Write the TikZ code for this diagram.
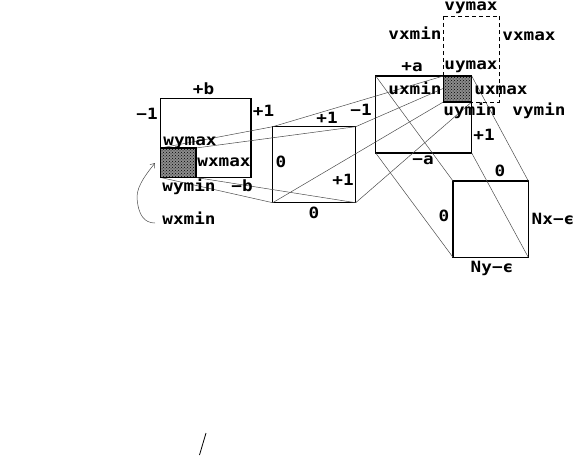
\documentclass[tikz,border=0pt]{standalone}
\usepackage{fontspec}
\setmonofont{DejaVu Sans Mono}
\usetikzlibrary{arrows.meta,patterns}

\begin{document}
\begin{tikzpicture}[
  x=1pt, y=-1pt,
  >={Straight Barb[length=4pt,width=6pt]},
  lbl/.style={font=\ttfamily\bfseries\fontsize{15.5}{16}\selectfont, anchor=base, inner sep=0pt, text=black, transform shape, xscale=1.14},
  frame/.style={draw=black, line width=1.1pt},
  dashframe/.style={draw=black, line width=0.6pt, dash pattern=on 4pt off 3pt},
  hatched/.style={draw=black, line width=1.1pt, fill=black!45, postaction={pattern=crosshatch dots, pattern color=black}},
  mapline/.style={draw=black!70, line width=0.5pt}
]
  \useasboundingbox (0,0) rectangle (577,460);
  % boxes
  \coordinate (wa) at (160.7,98.5);
  \coordinate (wb) at (251,177.5);
  \coordinate (sw) at (160.7,148);
  \coordinate (se) at (196,177.5);
  \coordinate (na) at (272.7,126.7);
  \coordinate (nb) at (355.7,202.7);
  \coordinate (ua) at (375.7,76);
  \coordinate (ub) at (471.7,153);
  \coordinate (ta) at (443.3,76);
  \coordinate (tb) at (471.7,102);
  \coordinate (va) at (443.3,16);
  \coordinate (vb) at (499.7,102);
  \coordinate (da) at (453,181);
  \coordinate (db) at (528.3,257.3);
  \draw[dashframe] (va) rectangle (vb);
  \draw[frame] (wa) rectangle (wb);
  \draw[frame] (na) rectangle (nb);
  \draw[frame] (ua) rectangle (ub);
  \draw[frame] (da) rectangle (db);
  % mapping lines
  \draw[mapline] (sw) -- (na);
  \draw[mapline] (se |- sw) -- (nb |- na);
  \draw[mapline] (sw |- se) -- (na |- nb);
  \draw[mapline] (se) -- (nb);
  \draw[mapline] (na) -- (ta);
  \draw[mapline] (nb |- na) -- (tb |- ta);
  \draw[mapline] (na |- nb) -- (ta |- tb);
  \draw[mapline] (nb) -- (tb);
  \draw[mapline] (ua) -- (da);
  \draw[mapline] (ub |- ua) -- (db |- da);
  \draw[mapline] (ua |- ub) -- (da |- db);
  \draw[mapline] (ub) -- (db);
  \draw[hatched] (sw) rectangle (se);
  \draw[hatched] (ta) rectangle (tb);
  % labels
  \node[lbl] (wtop) at (203.5,94) {+b};
  \node[lbl] (wleft) at (147,119) {−1};
  \node[lbl] (wright) at (263.5,116.5) {+1};
  \node[lbl] (wymax) at (190,145) {wymax};
  \node[lbl] (wxmax) at (224,166) {wxmax};
  \node[lbl] (wymin) at (189,191.5) {wymin};
  \node[lbl] (wbot) at (242,191.5) {−b};
  \node[lbl] (wxmin) at (189,224) {wxmin};
  \node[lbl] (ntop) at (327,123) {+1};
  \node[lbl] (nleft) at (281,167.5) {0};
  \node[lbl] (nright) at (343,185) {+1};
  \node[lbl] (nbot) at (314,218) {0};
  \node[lbl] (uleft) at (361,115.5) {−1};
  \node[lbl] (utop) at (412,71.5) {+a};
  \node[lbl] (uxmin) at (415,94) {uxmin};
  \node[lbl] (uxmax) at (501,94) {uxmax};
  \node[lbl] (uymax) at (471,69.5) {uymax};
  \node[lbl] (uymin) at (470,115.5) {uymin};
  \node[lbl] (uright) at (484,140) {+1};
  \node[lbl] (ubot) at (423,164) {−a};
  \node[lbl] (vymax) at (471,11) {vymax};
  \node[lbl] (vxmin) at (415,39.5) {vxmin};
  \node[lbl] (vxmax) at (529,40.5) {vxmax};
  \node[lbl] (vymin) at (539,115.5) {vymin};
  \node[lbl] (dtop) at (500,176) {0};
  \node[lbl] (dleft) at (444,221) {0};
  \node[lbl] (dright) at (553,224) {Nx−ϵ};
  \node[lbl] (dbot) at (492,272) {Ny−ϵ};
  % note arrow and stray stroke
  \coordinate (tip) at (155,163);
  \coordinate (sa) at (206,433);
  \coordinate (sb) at (199.5,455);
  \coordinate (tail) at (155,223);
  \draw[mapline, ->] (tail) .. controls (145,223) and (138,216) .. (137,197) .. controls (137,185) and (148,172) .. (tip);
  \draw[black, line width=0.8pt] (sa) -- (sb);
\end{tikzpicture}
\end{document}
